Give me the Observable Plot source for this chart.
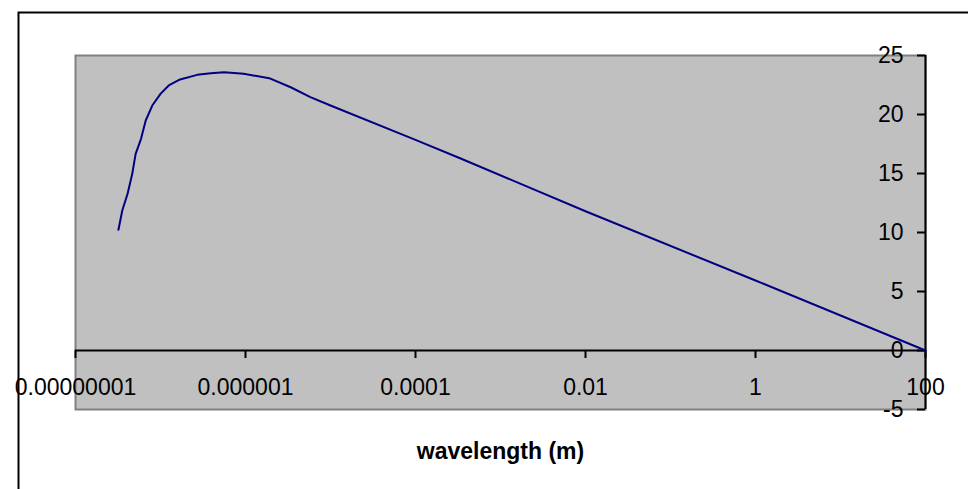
<!DOCTYPE html>
<html>
<head>
<meta charset="utf-8">
<script src="https://cdn.jsdelivr.net/npm/d3@7"></script>
<script src="https://cdn.jsdelivr.net/npm/@observablehq/plot@0.6"></script>
<style>
  html, body { margin: 0; padding: 0; background: #ffffff; }
  #chart svg { display: block; }
</style>
</head>
<body>
<div id="chart"></div>
<script>
// Data
const wavelengths = [3.2e-8, 3.55e-8, 4.1e-8, 4.65e-8, 5.1e-8, 5.9e-8, 6.7e-8, 8e-8, 1e-7, 1.25e-7, 1.7e-7, 2.7e-7, 3.9e-7, 5.6e-7, 9.5e-7, 1.9e-6, 3.4e-6, 5.8e-6, 1e-5, 1e-4, 3.4e-4, 1e-2, 1, 100];
const values      = [10.23, 11.86, 13.28, 14.97, 16.67, 17.94, 19.49, 20.76, 21.75, 22.46, 22.97, 23.36, 23.5, 23.59, 23.45, 23.08, 22.31, 21.47, 20.76, 17.85, 16.27, 11.8, 5.93, 0];

const xTicks = [1e-8, 1e-6, 1e-4, 1e-2, 1, 100];
const xTickLabels = ["0.00000001", "0.000001", "0.0001", "0.01", "1", "100"];
const yTicks = [-5, 0, 5, 10, 15, 20, 25];
const yTickLabels = ["-5", "0", "5", "10", "15", "20", "25"];
const xTitle = "wavelength (m)";

const data = wavelengths.map((w, i) => ({w, v: values[i]}));
const font = "'Liberation Sans', Arial, Helvetica, sans-serif";

const chart = Plot.plot({
  width: 968,
  height: 489,
  marginLeft: 75,
  marginRight: 43,
  marginTop: 55,
  marginBottom: 80,
  style: {fontFamily: font, background: "#ffffff", overflow: "visible"},
  x: {type: "log", domain: [1e-8, 100], axis: null},
  y: {domain: [-5, 25], axis: null},
  marks: [
    // outer chart border
    Plot.frame({stroke: "#000000", strokeWidth: 2, fill: "none", insetLeft: -57, insetTop: -43, insetRight: -60, insetBottom: -100}),
    // plot area
    Plot.frame({fill: "#c0c0c0", stroke: "#808080", strokeWidth: 2}),
    // y tick labels
    Plot.text(yTicks, {x: 100, y: d => d, text: (d, i) => yTickLabels[i], textAnchor: "end", dx: -22, fontSize: 23, fill: "#000000"}),
    // x tick labels
    Plot.text(xTicks, {x: d => d, y: 0, text: (d, i) => xTickLabels[i], dy: 37, fontSize: 23, fill: "#000000"}),
    // x axis title
    Plot.text([xTitle], {frameAnchor: "bottom", dy: 49, text: d => d, fontSize: 23, fontWeight: "bold", fill: "#000000"}),
    // x axis line at y = 0
    Plot.ruleY([0], {stroke: "#000000", strokeWidth: 2}),
    // x ticks (pointing down)
    Plot.ruleX(xTicks, {x: d => d, y1: 0, y2: 0, insetBottom: -8, stroke: "#000000", strokeWidth: 2}),
    // y axis line (right)
    Plot.ruleX([100], {stroke: "#000000", strokeWidth: 2}),
    // y ticks (pointing inward)
    Plot.ruleY(yTicks, {y: d => d, x1: 100, x2: 100, insetLeft: -8, stroke: "#000000", strokeWidth: 2}),
    // curve
    Plot.line(data, {x: "w", y: "v", stroke: "#000080", strokeWidth: 2})
  ]
});
document.getElementById("chart").appendChild(chart);
</script>
</body>
</html>
